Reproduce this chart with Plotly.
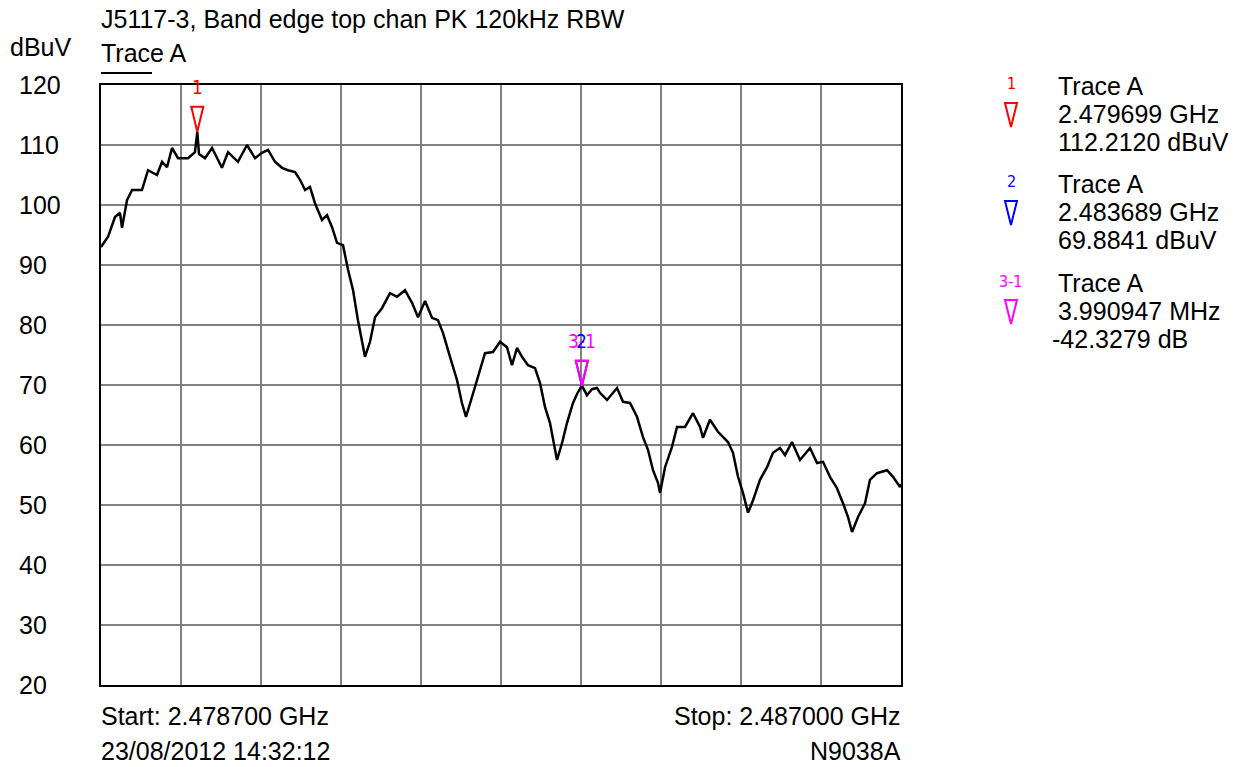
import plotly.graph_objects as go

# ---- data ----
freq_mhz = [
    2478.700, 2478.773, 2478.845, 2478.897, 2478.918, 2478.970, 2479.022, 2479.125, 2479.188, 2479.281,
    2479.333, 2479.385, 2479.437, 2479.499, 2479.603, 2479.675, 2479.699, 2479.717, 2479.779, 2479.852,
    2479.955, 2480.018, 2480.121, 2480.215, 2480.298, 2480.370, 2480.433, 2480.505, 2480.578, 2480.640,
    2480.713, 2480.765, 2480.817, 2480.868, 2480.920, 2480.993, 2481.045, 2481.097, 2481.149, 2481.211,
    2481.263, 2481.315, 2481.366, 2481.408, 2481.439, 2481.491, 2481.543, 2481.615, 2481.698, 2481.771,
    2481.854, 2481.927, 2481.989, 2482.062, 2482.134, 2482.196, 2482.248, 2482.321, 2482.394, 2482.445,
    2482.487, 2482.549, 2482.611, 2482.684, 2482.767, 2482.840, 2482.912, 2482.964, 2483.016, 2483.068,
    2483.130, 2483.203, 2483.255, 2483.307, 2483.358, 2483.410, 2483.431, 2483.483, 2483.535, 2483.597,
    2483.639, 2483.689, 2483.742, 2483.794, 2483.846, 2483.877, 2483.950, 2484.054, 2484.116, 2484.188,
    2484.261, 2484.323, 2484.375, 2484.427, 2484.479, 2484.500, 2484.552, 2484.624, 2484.676, 2484.759,
    2484.842, 2484.915, 2484.946, 2485.018, 2485.101, 2485.205, 2485.257, 2485.309, 2485.361, 2485.413,
    2485.465, 2485.537, 2485.610, 2485.672, 2485.745, 2485.797, 2485.869, 2485.952, 2486.056, 2486.129,
    2486.191, 2486.263, 2486.336, 2486.398, 2486.450, 2486.492, 2486.554, 2486.627, 2486.678, 2486.751,
    2486.855, 2486.917, 2486.990, 2487.000,
]
level_dbuv = [
    93.0, 94.7, 98.0, 98.7, 96.2, 100.8, 102.5, 102.5, 105.8, 105.0,
    107.2, 106.3, 109.5, 107.8, 107.8, 108.8, 112.2, 108.5, 107.8, 109.5,
    106.2, 108.8, 107.2, 110.0, 107.8, 108.7, 109.2, 107.2, 106.2, 105.8,
    105.5, 104.2, 102.5, 103.0, 100.3, 97.5, 98.3, 96.3, 93.7, 93.3,
    89.2, 85.8, 80.8, 77.0, 74.7, 77.2, 81.3, 82.8, 85.3, 84.7,
    85.8, 83.7, 81.3, 84.0, 81.2, 80.8, 78.7, 74.7, 70.8, 67.0,
    64.7, 68.0, 71.3, 75.3, 75.5, 77.2, 76.3, 73.3, 76.2, 74.7,
    73.3, 72.8, 70.3, 66.3, 63.7, 59.2, 57.5, 60.3, 63.7, 67.0,
    68.5, 69.9, 68.3, 69.3, 69.5, 68.7, 67.5, 69.5, 67.2, 67.0,
    64.7, 61.3, 59.2, 55.8, 53.7, 52.0, 56.3, 59.7, 63.0, 63.0,
    65.3, 63.0, 61.2, 64.2, 62.2, 60.5, 58.7, 54.7, 52.0, 48.7,
    50.8, 54.2, 56.3, 58.7, 59.5, 58.3, 60.5, 57.5, 59.5, 57.0,
    57.2, 54.7, 52.8, 50.3, 48.0, 45.5, 48.0, 50.3, 54.2, 55.3,
    55.8, 54.7, 53.0, 53.5,
]
y_ticks = [20, 30, 40, 50, 60, 70, 80, 90, 100, 110, 120]
y_tick_labels = ["20", "30", "40", "50", "60", "70", "80", "90", "100", "110", "120"]

start_ghz = 2.4787
stop_ghz = 2.487
n_div = 10

marker_ids = ["1", "2", "3-1"]
marker_freq_ghz = [2.479699, 2.483689, 2.483689]
marker_level = [112.2120, 69.8841, 69.8841]
marker_colors = ["#ff0000", "#0000ff", "#ff00ff"]
marker_text = [
    ["Trace A", "2.479699 GHz", "112.2120 dBuV"],
    ["Trace A", "2.483689 GHz", "69.8841 dBuV"],
    ["Trace A", "3.990947 MHz", "-42.3279 dB"],
]

title_text = "J5117-3, Band edge top chan PK 120kHz RBW"
unit_text = "dBuV"
trace_name = "Trace A"
start_text = "Start: 2.478700 GHz"
stop_text = "Stop: 2.487000 GHz"
date_text = "23/08/2012 14:32:12"
model_text = "N9038A"

# ---- figure ----
FONT = "Liberation Sans, Arial, sans-serif"
NARROW = "Liberation Sans Narrow, Arial Narrow, DejaVu Sans Condensed, Liberation Sans, sans-serif"
FS = 25
W, H = 1247, 767
PLOT_L, PLOT_T, PW, PH = 101, 85, 800, 600   # plot area in window pixels
L, T = PLOT_L, PLOT_T
R = W - L - PW
B = H - T - PH


def px(xp):
    return (xp - PLOT_L) / PW


def py(yp):
    return (PLOT_T + PH - yp) / PH


freq_ghz = [f / 1000.0 for f in freq_mhz]

fig = go.Figure()
fig.add_trace(go.Scatter(
    x=freq_ghz, y=level_dbuv, mode="lines",
    line=dict(color="black", width=2.5), hoverinfo="skip", showlegend=False,
))

annotations = []
shapes = []

# y tick labels, left aligned
for v, t in zip(y_ticks, y_tick_labels):
    annotations.append(dict(x=px(17), y=v, xref="paper", yref="y", text=t, showarrow=False,
                            xanchor="left", yanchor="middle", font=dict(size=FS, color="black", family=FONT)))

# header / footer texts
hdr = [
    dict(x=px(99), y=py(19), text=title_text, xanchor="left"),
    dict(x=px(99), y=py(53), text=trace_name, xanchor="left"),
    dict(x=px(8), y=py(47), text=unit_text, xanchor="left"),
    dict(x=px(99), y=py(716), text=start_text, xanchor="left"),
    dict(x=px(99), y=py(751), text=date_text, xanchor="left"),
    dict(x=px(903), y=py(716), text=stop_text, xanchor="right"),
    dict(x=px(903), y=py(751), text=model_text, xanchor="right"),
]
for a in hdr:
    a.update(xref="paper", yref="paper", showarrow=False, yanchor="middle",
             font=dict(size=FS, color="black", family=FONT))
annotations += hdr

# underline below "Trace A"
shapes.append(dict(type="line", xref="paper", yref="paper", x0=px(101), x1=px(152),
                   y0=py(73), y1=py(73), line=dict(color="black", width=2)))

tri_path = "M -6 25 L 6 25 L 0 0 Z"

# markers on the plot (magenta drawn last, on top of blue)
for mid, f, lv, c in zip(marker_ids, marker_freq_ghz, marker_level, marker_colors):
    shapes.append(dict(type="path", xref="x", yref="y", xsizemode="pixel", ysizemode="pixel",
                       xanchor=f, yanchor=lv, path=tri_path, line=dict(color=c, width=2),
                       fillcolor="rgba(0,0,0,0)", layer="above"))
for i in [0, 2, 1]:
    annotations.append(dict(x=marker_freq_ghz[i], y=marker_level[i], xref="x", yref="y",
                            text=marker_ids[i], showarrow=False, yshift=45,
                            xanchor="center", yanchor="middle",
                            font=dict(size=19, color=marker_colors[i], family=NARROW)))

# marker table on the right
row_top = [86, 184, 283]
for k, (mid, c, lines) in enumerate(zip(marker_ids, marker_colors, marker_text)):
    y0 = row_top[k]
    annotations.append(dict(x=px(1011), y=py(y0 - 2), xref="paper", yref="paper", text=mid,
                            showarrow=False, xanchor="center", yanchor="middle",
                            font=dict(size=16, color=c, family=NARROW)))
    shapes.append(dict(type="path", xref="paper", yref="paper", xsizemode="pixel", ysizemode="pixel",
                       xanchor=px(1011), yanchor=py(y0 + 41), path="M -6 24 L 6 24 L 0 0 Z",
                       line=dict(color=c, width=2), fillcolor="rgba(0,0,0,0)"))
    for j, t in enumerate(lines):
        xl = 1056
        if t.startswith("-"):
            xl = 1050
        annotations.append(dict(x=px(xl), y=py(y0 + 28 * j), xref="paper", yref="paper", text=t,
                                showarrow=False, xanchor="left", yanchor="middle",
                                font=dict(size=FS, color="black", family=FONT)))

fig.update_layout(
    width=W, height=H, autosize=False,
    margin=dict(l=L, r=R, t=T, b=B, pad=0),
    paper_bgcolor="white", plot_bgcolor="white",
    font=dict(family=FONT, color="black"),
    showlegend=False,
    annotations=annotations,
    shapes=shapes,
    xaxis=dict(range=[start_ghz, stop_ghz], tick0=start_ghz, dtick=(stop_ghz - start_ghz) / n_div,
               showticklabels=False, ticks="", showgrid=True, gridcolor="#808080", gridwidth=2,
               zeroline=False, showline=True, linecolor="black", linewidth=2, mirror=True,
               fixedrange=True),
    yaxis=dict(range=[20, 120], tickvals=y_ticks, showticklabels=False, ticks="",
               showgrid=True, gridcolor="#808080", gridwidth=2,
               zeroline=False, showline=True, linecolor="black", linewidth=2, mirror=True,
               fixedrange=True),
)

fig.write_html(
    "out.html",
    config=dict(displayModeBar=False),
    post_script="document.body.style.margin='0';document.body.style.overflow='hidden';",
)
